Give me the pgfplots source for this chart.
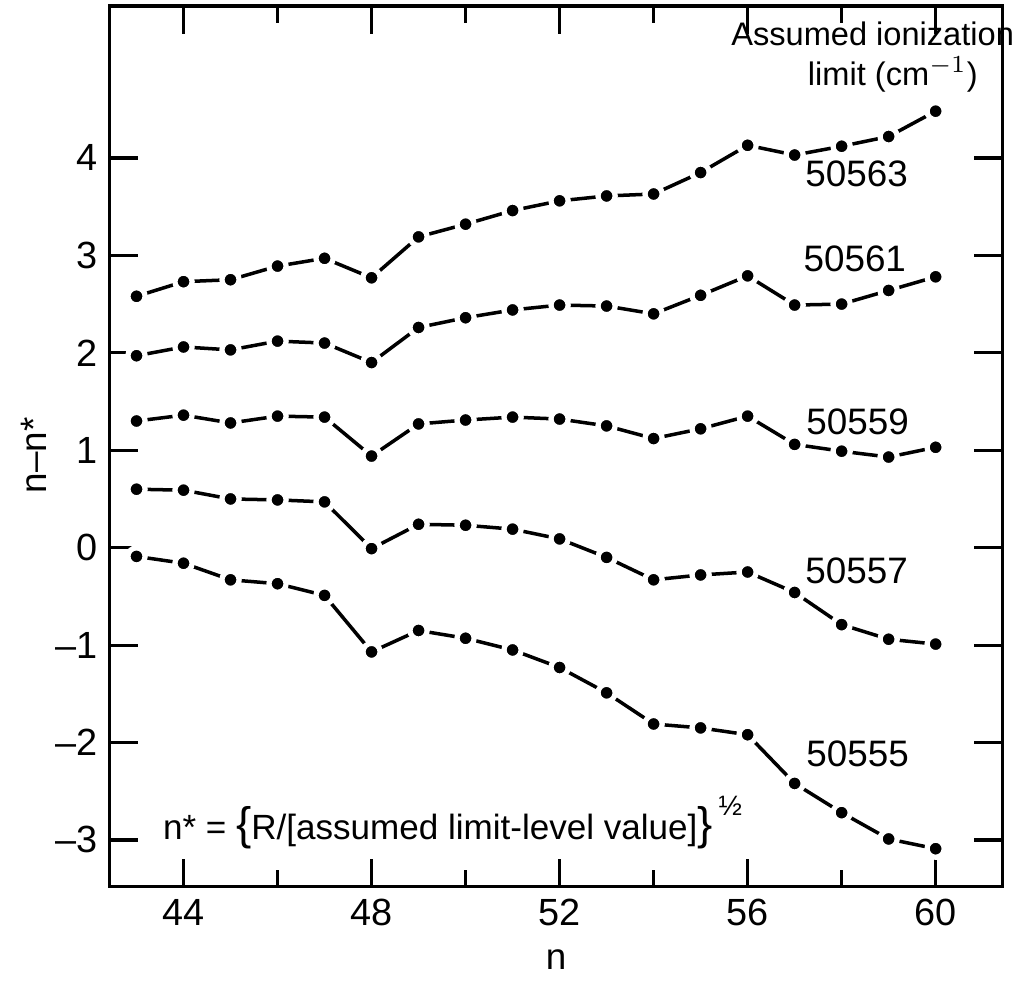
\documentclass[border=0pt]{standalone}
\usepackage{pgfplots}
\pgfplotsset{compat=1.18}
\usepackage{fontspec}
\setmainfont{Liberation Sans}
\begin{document}
\begin{tikzpicture}
\begin{axis}[
  scale only axis,
  width=89.5mm, height=88.3mm,
  xmin=42.43, xmax=61.42, ymin=-3.48, ymax=5.56,
  clip=false,
  axis line style={line width=1pt},
  xtick={44,48,52,56,60},
  minor xtick={46,50,54,58},
  ytick={-3,-2,-1,0,1,2,3,4},
  yticklabels={–3,–2,–1,0,1,2,3,4},
  tick align=inside,
  major tick length=2.8mm,
  minor tick length=1.7mm,
  tick style={line width=0.9pt, black},
  /pgf/number format/assume math mode=true,
  ticklabel style={font=\fontsize{10.8}{12}\selectfont},
  xlabel={n}, ylabel={n–n*},
  label style={font=\fontsize{10.5}{12}\selectfont},
  xlabel style={at={(axis description cs:0.5,-0.083)}, anchor=center},
  ylabel style={at={(axis description cs:-0.085,0.49)}, anchor=center},
  ser/.style={black, solid, line width=1pt, mark=*, mark size=2.45pt,
     mark options={solid, fill=black, draw=white, line width=1.5pt}},
]
% 50563
\addplot[ser] coordinates {(43,2.58)(44,2.73)(45,2.75)(46,2.89)(47,2.97)(48,2.77)(49,3.19)(50,3.32)(51,3.46)(52,3.56)(53,3.61)(54,3.63)(55,3.85)(56,4.13)(57,4.03)(58,4.12)(59,4.22)(60,4.48)};
% 50561
\addplot[ser] coordinates {(43,1.97)(44,2.06)(45,2.03)(46,2.12)(47,2.10)(48,1.90)(49,2.26)(50,2.36)(51,2.44)(52,2.49)(53,2.48)(54,2.40)(55,2.59)(56,2.79)(57,2.49)(58,2.50)(59,2.64)(60,2.78)};
% 50559
\addplot[ser] coordinates {(43,1.30)(44,1.36)(45,1.28)(46,1.35)(47,1.34)(48,0.94)(49,1.27)(50,1.31)(51,1.34)(52,1.32)(53,1.25)(54,1.12)(55,1.22)(56,1.35)(57,1.06)(58,0.99)(59,0.93)(60,1.03)};
% 50557
\addplot[ser] coordinates {(43,0.60)(44,0.59)(45,0.50)(46,0.49)(47,0.47)(48,-0.01)(49,0.24)(50,0.23)(51,0.19)(52,0.09)(53,-0.10)(54,-0.33)(55,-0.28)(56,-0.25)(57,-0.46)(58,-0.79)(59,-0.94)(60,-0.99)};
% 50555
\addplot[ser] coordinates {(43,-0.09)(44,-0.16)(45,-0.33)(46,-0.37)(47,-0.49)(48,-1.07)(49,-0.85)(50,-0.93)(51,-1.05)(52,-1.23)(53,-1.49)(54,-1.81)(55,-1.85)(56,-1.92)(57,-2.42)(58,-2.72)(59,-2.99)(60,-3.09)};

\begin{scope}[every node/.style={font=\fontsize{10.5}{12}\selectfont, inner sep=0pt}]
\node[anchor=center] at (axis cs:58.32,3.84) {50563};
\node[anchor=center] at (axis cs:58.28,2.96) {50561};
\node[anchor=center] at (axis cs:58.34,1.29) {50559};
\node[anchor=center] at (axis cs:58.32,-0.24) {50557};
\node[anchor=center] at (axis cs:58.34,-2.12) {50555};
\end{scope}
\node[anchor=base, inner sep=0pt, font=\fontsize{9.3}{11}\selectfont] at (axis cs:58.66,5.15) {Assumed ionization};
\node[anchor=base, inner sep=0pt, font=\fontsize{9.3}{11}\selectfont] at (axis cs:59.09,4.74) {limit (cm$^{-1}$)};
\node[anchor=base west, inner sep=0pt, font=\fontsize{10}{12}\selectfont] at (axis cs:43.55,-3.0)
  {n* = {\fontsize{13}{13}\selectfont\{}R/[assumed limit-level value]{\fontsize{13}{13}\selectfont\}}\,\raisebox{1.3ex}{\fontsize{8}{8}\selectfont ½}};
\end{axis}
\path (current axis.south west) ++(-11mm,-9.2mm);
\path (current axis.north east) ++(0.9mm,0.6mm);
\end{tikzpicture}
\end{document}
